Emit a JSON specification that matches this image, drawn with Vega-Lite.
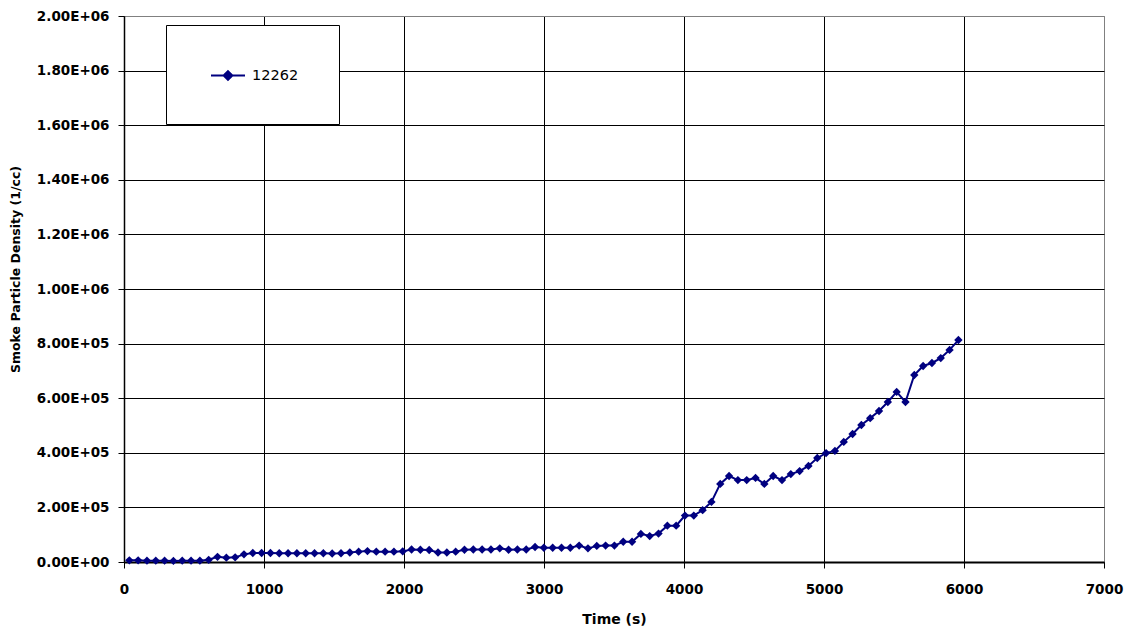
{
  "$schema": "https://vega.github.io/schema/vega-lite/v6.json",
  "width": 980,
  "height": 546,
  "autosize": "none",
  "padding": {"left": 124, "top": 16, "right": 25, "bottom": 69},
  "background": "white",
  "config": {"view": {"stroke": "#808080", "strokeWidth": 1}, "font": "DejaVu Sans"},
  "data": {"values": [
    {"time": 38, "density": 6000, "series": "12262"},
    {"time": 101, "density": 6000, "series": "12262"},
    {"time": 164, "density": 5000, "series": "12262"},
    {"time": 227, "density": 5000, "series": "12262"},
    {"time": 290, "density": 5000, "series": "12262"},
    {"time": 353, "density": 4000, "series": "12262"},
    {"time": 416, "density": 5000, "series": "12262"},
    {"time": 479, "density": 5000, "series": "12262"},
    {"time": 542, "density": 5000, "series": "12262"},
    {"time": 605, "density": 8000, "series": "12262"},
    {"time": 668, "density": 19000, "series": "12262"},
    {"time": 731, "density": 16000, "series": "12262"},
    {"time": 794, "density": 17000, "series": "12262"},
    {"time": 857, "density": 28000, "series": "12262"},
    {"time": 920, "density": 33000, "series": "12262"},
    {"time": 983, "density": 33000, "series": "12262"},
    {"time": 1046, "density": 33000, "series": "12262"},
    {"time": 1109, "density": 32000, "series": "12262"},
    {"time": 1172, "density": 32000, "series": "12262"},
    {"time": 1235, "density": 32000, "series": "12262"},
    {"time": 1298, "density": 32000, "series": "12262"},
    {"time": 1361, "density": 32000, "series": "12262"},
    {"time": 1424, "density": 32000, "series": "12262"},
    {"time": 1487, "density": 31000, "series": "12262"},
    {"time": 1550, "density": 32000, "series": "12262"},
    {"time": 1613, "density": 35000, "series": "12262"},
    {"time": 1676, "density": 38000, "series": "12262"},
    {"time": 1739, "density": 40000, "series": "12262"},
    {"time": 1802, "density": 38000, "series": "12262"},
    {"time": 1865, "density": 38000, "series": "12262"},
    {"time": 1928, "density": 38000, "series": "12262"},
    {"time": 1991, "density": 39000, "series": "12262"},
    {"time": 2054, "density": 46000, "series": "12262"},
    {"time": 2117, "density": 45000, "series": "12262"},
    {"time": 2180, "density": 44000, "series": "12262"},
    {"time": 2243, "density": 35000, "series": "12262"},
    {"time": 2306, "density": 35000, "series": "12262"},
    {"time": 2369, "density": 38000, "series": "12262"},
    {"time": 2432, "density": 45000, "series": "12262"},
    {"time": 2495, "density": 46000, "series": "12262"},
    {"time": 2558, "density": 46000, "series": "12262"},
    {"time": 2621, "density": 46000, "series": "12262"},
    {"time": 2684, "density": 50000, "series": "12262"},
    {"time": 2747, "density": 45000, "series": "12262"},
    {"time": 2810, "density": 46000, "series": "12262"},
    {"time": 2873, "density": 46000, "series": "12262"},
    {"time": 2936, "density": 55000, "series": "12262"},
    {"time": 2999, "density": 52000, "series": "12262"},
    {"time": 3062, "density": 52000, "series": "12262"},
    {"time": 3125, "density": 52000, "series": "12262"},
    {"time": 3188, "density": 52000, "series": "12262"},
    {"time": 3251, "density": 60000, "series": "12262"},
    {"time": 3314, "density": 50000, "series": "12262"},
    {"time": 3377, "density": 59000, "series": "12262"},
    {"time": 3440, "density": 60000, "series": "12262"},
    {"time": 3503, "density": 60000, "series": "12262"},
    {"time": 3566, "density": 74000, "series": "12262"},
    {"time": 3629, "density": 74000, "series": "12262"},
    {"time": 3692, "density": 103000, "series": "12262"},
    {"time": 3755, "density": 95000, "series": "12262"},
    {"time": 3818, "density": 104000, "series": "12262"},
    {"time": 3881, "density": 133000, "series": "12262"},
    {"time": 3944, "density": 133000, "series": "12262"},
    {"time": 4007, "density": 170000, "series": "12262"},
    {"time": 4070, "density": 170000, "series": "12262"},
    {"time": 4133, "density": 190000, "series": "12262"},
    {"time": 4196, "density": 220000, "series": "12262"},
    {"time": 4259, "density": 286000, "series": "12262"},
    {"time": 4322, "density": 315000, "series": "12262"},
    {"time": 4385, "density": 300000, "series": "12262"},
    {"time": 4448, "density": 300000, "series": "12262"},
    {"time": 4511, "density": 308000, "series": "12262"},
    {"time": 4574, "density": 286000, "series": "12262"},
    {"time": 4637, "density": 315000, "series": "12262"},
    {"time": 4700, "density": 300000, "series": "12262"},
    {"time": 4763, "density": 322000, "series": "12262"},
    {"time": 4826, "density": 333000, "series": "12262"},
    {"time": 4889, "density": 352000, "series": "12262"},
    {"time": 4952, "density": 381000, "series": "12262"},
    {"time": 5015, "density": 399000, "series": "12262"},
    {"time": 5078, "density": 407000, "series": "12262"},
    {"time": 5141, "density": 440000, "series": "12262"},
    {"time": 5204, "density": 469000, "series": "12262"},
    {"time": 5267, "density": 502000, "series": "12262"},
    {"time": 5330, "density": 527000, "series": "12262"},
    {"time": 5393, "density": 553000, "series": "12262"},
    {"time": 5456, "density": 586000, "series": "12262"},
    {"time": 5519, "density": 623000, "series": "12262"},
    {"time": 5582, "density": 586000, "series": "12262"},
    {"time": 5645, "density": 685000, "series": "12262"},
    {"time": 5708, "density": 718000, "series": "12262"},
    {"time": 5771, "density": 729000, "series": "12262"},
    {"time": 5834, "density": 747000, "series": "12262"},
    {"time": 5897, "density": 777000, "series": "12262"},
    {"time": 5960, "density": 813000, "series": "12262"}
  ]},
  "mark": {
    "type": "line",
    "strokeWidth": 2,
    "point": {"shape": "diamond", "size": 70, "filled": true, "opacity": 1}
  },
  "encoding": {
    "x": {
      "field": "time",
      "type": "quantitative",
      "scale": {"domain": [0, 7000], "nice": false, "zero": false},
      "axis": {
        "title": "Time (s)",
        "values": [0, 1000, 2000, 3000, 4000, 5000, 6000, 7000],
        "format": "d",
        "labelFont": "DejaVu Sans",
        "labelFontSize": 13.5,
        "labelFontWeight": "bold",
        "labelColor": "black",
        "labelPadding": 14,
        "labelFlush": false,
        "labelOverlap": false,
        "tickSize": 6,
        "tickColor": "black",
        "tickWidth": 1,
        "domainColor": "black",
        "domainWidth": 2,
        "grid": true,
        "gridColor": {"condition": {"test": "datum.value === 7000", "value": "#808080"}, "value": "black"},
        "gridWidth": 1,
        "gridOpacity": 1,
        "titleFont": "DejaVu Sans",
        "titleFontSize": 14,
        "titleFontWeight": "bold",
        "titleColor": "black",
        "titleY": 57,
        "titleBaseline": "middle"
      }
    },
    "y": {
      "field": "density",
      "type": "quantitative",
      "scale": {"domain": [0, 2000000], "nice": false},
      "axis": {
        "title": "Smoke Particle Density (1/cc)",
        "values": [0, 200000, 400000, 600000, 800000, 1000000, 1200000, 1400000, 1600000, 1800000, 2000000],
        "labelExpr": "replace(format(datum.value, '.2e'), 'e+', 'E+0')",
        "labelFont": "DejaVu Sans",
        "labelFontSize": 13.5,
        "labelFontWeight": "bold",
        "labelColor": "black",
        "labelPadding": 9,
        "labelFlush": false,
        "labelOverlap": false,
        "tickSize": 6,
        "tickColor": "black",
        "tickWidth": 1,
        "domainColor": "black",
        "domainWidth": 1.5,
        "grid": true,
        "gridColor": {"condition": {"test": "datum.value === 2000000", "value": "#808080"}, "value": "black"},
        "gridWidth": 1,
        "gridOpacity": 1,
        "titleFont": "DejaVu Sans",
        "titleFontSize": 12.5,
        "titleFontWeight": "bold",
        "titleColor": "black",
        "titleX": -109,
        "titleY": 253,
        "titleBaseline": "middle"
      }
    },
    "color": {
      "field": "series",
      "type": "nominal",
      "scale": {"range": ["#000080"]},
      "legend": {
        "title": null,
        "orient": "none",
        "legendX": 42,
        "legendY": 9,
        "padding": 40,
        "strokeColor": "black",
        "fillColor": "white",
        "labelFont": "DejaVu Sans",
        "labelFontSize": 14.5,
        "labelColor": "black",
        "labelOffset": 25,
        "symbolType": "M-0.58,0H3M1.21,-0.46L1.67,0L1.21,0.46L0.75,0Z",
        "symbolSize": 361,
        "symbolStrokeWidth": 2,
        "symbolFillColor": "#000080",
        "symbolStrokeColor": "#000080",
        "symbolOpacity": 1
      }
    }
  }
}
